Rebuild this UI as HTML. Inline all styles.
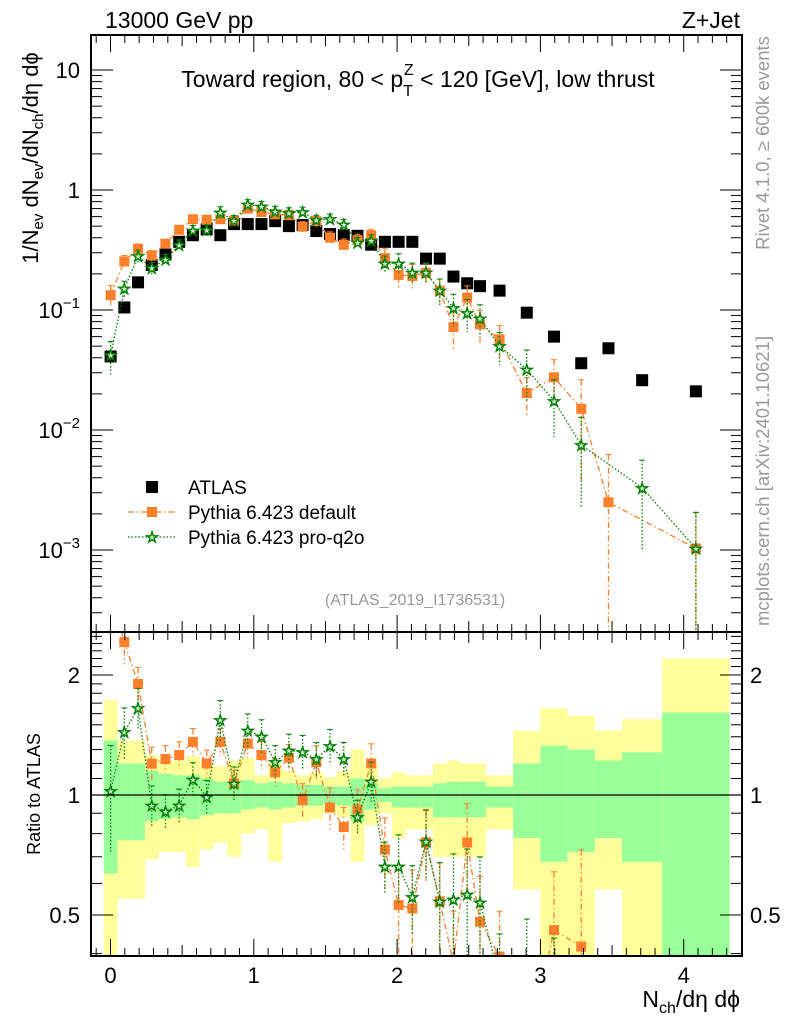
<!DOCTYPE html>
<html><head><meta charset="utf-8">
<style>
html,body{margin:0;padding:0;background:#fff;width:786px;height:1024px;overflow:hidden;}
svg{display:block;font-family:"Liberation Sans",Arial,sans-serif;}
</style></head>
<body>
<svg id="chart" width="786" height="1024" viewBox="0 0 786 1024" xmlns="http://www.w3.org/2000/svg">
<g id="bands"></g>
<g id="marks"></g>
<g id="axes"></g>
<text x="105" y="28" font-size="23">13000 GeV pp</text>
<text x="740" y="28" font-size="23" text-anchor="end">Z+Jet</text>
<text x="418" y="87" font-size="23" text-anchor="middle">Toward region, 80 &lt; p<tspan font-size="16" dy="9">T</tspan><tspan font-size="16" dx="-9" dy="-21">Z</tspan><tspan dy="12"> &lt; 120 [GeV], low thrust</tspan></text>
<text x="415" y="605" font-size="16" fill="#999" text-anchor="middle">(ATLAS_2019_I1736531)</text>
<text transform="translate(769,143) rotate(-90)" font-size="18.5" fill="#999" text-anchor="middle">Rivet 4.1.0, ≥ 600k events</text>
<text transform="translate(769,481) rotate(-90)" font-size="18.5" fill="#999" text-anchor="middle">mcplots.cern.ch [arXiv:2401.10621]</text>
<text transform="translate(38,158) rotate(-90)" font-size="22" text-anchor="middle">1/N<tspan font-size="15" dy="5">ev</tspan><tspan dy="-5"> dN</tspan><tspan font-size="15" dy="5">ev</tspan><tspan dy="-5">/dN</tspan><tspan font-size="15" dy="5">ch</tspan><tspan dy="-5">/dη dϕ</tspan></text>
<text transform="translate(40,794) rotate(-90)" font-size="18" text-anchor="middle">Ratio to ATLAS</text>
<text x="740" y="1007" font-size="23" text-anchor="end">N<tspan font-size="16" dy="6">ch</tspan><tspan dy="-6">/dη dϕ</tspan></text>
<g id="legend">
<rect x="146" y="481" width="12" height="12" fill="#000"/>
<text x="188" y="494" font-size="19">ATLAS</text>
<line x1="128" y1="512" x2="176" y2="512" stroke="#ff7f2a" stroke-width="1.3" stroke-dasharray="6,3,1.5,3"/>
<rect x="147" y="507" width="10" height="10" fill="#ff7f2a"/>
<text x="188" y="519" font-size="19">Pythia 6.423 default</text>
<line x1="128" y1="537" x2="176" y2="537" stroke="#008000" stroke-width="1.3" stroke-dasharray="1.5,2"/>
<text x="152" y="542" font-size="14" fill="#cfe8cf" stroke="#008000" stroke-width="1.4" text-anchor="middle">★</text>
<text x="188" y="544" font-size="19">Pythia 6.423 pro-q2o</text>
</g>
</svg>
<script>
// ---- data ----
const binEdges = [-0.047,0.0487,0.1444,0.2401,0.3358,0.4315,0.5272,0.6229,0.7186,0.8143,0.91,1.0057,1.1014,1.1971,1.2928,1.3885,1.4842,1.5799,1.6756,1.7713,1.867,1.9627,2.0584,2.1541,2.2498,2.3455,2.4412,2.5369,2.62,2.81,3.0,3.19,3.38,3.57,3.85,4.32];
const atlasValues = [0.041,0.105,0.17,0.237,0.29,0.37,0.42,0.47,0.42,0.52,0.52,0.52,0.55,0.5,0.51,0.455,0.43,0.42,0.415,0.35,0.37,0.37,0.37,0.268,0.268,0.19,0.167,0.158,0.145,0.095,0.06,0.036,0.048,0.026,0.021];
const defaultValues = [0.133,0.254,0.323,0.284,0.357,0.466,0.571,0.564,0.571,0.556,0.70,0.655,0.627,0.62,0.495,0.55,0.40,0.349,0.382,0.42,0.27,0.196,0.192,0.204,0.145,0.072,0.127,0.076,0.057,0.0203,0.0275,0.015,0.0025,null,0.00103];
const defaultRelErr = [0.2,0.12,0.1,0.1,0.08,0.08,0.08,0.08,0.08,0.08,0.08,0.08,0.08,0.08,0.1,0.1,0.12,0.12,0.12,0.12,0.2,0.25,0.25,0.2,0.25,0.35,0.25,0.3,0.3,0.35,0.4,0.75,1.5,0,1.0];
const proq2oValues = [0.042,0.151,0.281,0.223,0.264,0.348,0.46,0.465,0.647,0.556,0.755,0.73,0.665,0.646,0.654,0.56,0.571,0.517,0.366,0.378,0.245,0.245,0.205,0.205,0.145,0.104,0.094,0.085,0.05,0.032,0.0175,0.0075,null,0.0033,0.00103];
const proq2oRelErr = [0.3,0.15,0.12,0.12,0.1,0.1,0.1,0.1,0.12,0.1,0.1,0.1,0.1,0.1,0.1,0.1,0.1,0.1,0.1,0.12,0.15,0.2,0.2,0.2,0.25,0.3,0.3,0.3,0.3,0.45,0.5,0.7,0,0.7,1.0];
const yellowHi = [1.73,1.37,1.37,1.26,1.22,1.22,1.25,1.2,1.18,1.22,1.24,1.12,1.2,1.15,1.12,1.14,1.11,1.15,1.3,1.2,1.1,1.14,1.12,1.12,1.2,1.22,1.2,1.2,1.12,1.45,1.65,1.58,1.45,1.55,2.2];
const greenHi = [1.37,1.2,1.2,1.15,1.13,1.12,1.12,1.1,1.08,1.07,1.09,1.07,1.08,1.07,1.06,1.06,1.05,1.05,1.1,1.07,1.04,1.05,1.05,1.05,1.07,1.08,1.08,1.08,1.05,1.2,1.33,1.3,1.22,1.28,1.61];
const greenLo = [0.635,0.77,0.77,0.86,0.87,0.88,0.87,0.89,0.9,0.9,0.92,0.93,0.92,0.93,0.94,0.94,0.95,0.94,0.86,0.92,0.96,0.93,0.93,0.93,0.88,0.88,0.88,0.88,0.93,0.78,0.68,0.72,0.78,0.68,0.38];
const yellowLo = [0.3,0.55,0.55,0.69,0.72,0.72,0.66,0.73,0.76,0.7,0.8,0.82,0.68,0.85,0.86,0.87,0.9,0.88,0.68,0.84,0.9,0.78,0.82,0.82,0.7,0.7,0.7,0.7,0.82,0.58,0.38,0.38,0.58,0.38,0.38];
const mainTicks = [10,1,0.1,0.01,0.001];
const mainTickLabels = ["10","1","10<sup>−1</sup>","10<sup>−2</sup>","10<sup>−3</sup>"];
const ratioTicks = [2,1,0.5];
const ratioTickLabels = ["2","1","0.5"];
const xTicks = [0,1,2,3,4];
const xTickLabels = ["0","1","2","3","4"];

// ---- geometry ----
const L=91,R=742,MT=35,MB=632,RT=632,RB=956;
const X0=110.5,XS=143.3;
const sx=v=>X0+v*XS;
const sy=v=>190-120*Math.log10(v);
const sr=v=>795-398.6*Math.log10(v);
const NS="http://www.w3.org/2000/svg";
function mk(parent,tag,attrs){const e=document.createElementNS(NS,tag);for(const k in attrs)e.setAttribute(k,attrs[k]);parent.appendChild(e);return e;}
const bandsG=document.getElementById('bands'),marksG=document.getElementById('marks'),axesG=document.getElementById('axes');
const clipY=(y,a,b)=>Math.max(a,Math.min(b,y));
const centers=atlasValues.map((_,i)=>(binEdges[i]+binEdges[i+1])/2);

for(let i=0;i<atlasValues.length;i++){
  const x1=sx(binEdges[i]),x2=sx(binEdges[i+1]);
  const yy1=clipY(sr(yellowHi[i]),RT,RB),yy2=clipY(sr(yellowLo[i]),RT,RB);
  const y=mk(bandsG,'rect',{x:x1,y:yy1,width:x2-x1,height:yy2-yy1,fill:'#ffff99'});
  
  
  const g1=clipY(sr(greenHi[i]),RT,RB),g2=clipY(sr(greenLo[i]),RT,RB);
  const g=mk(bandsG,'rect',{x:x1,y:g1,width:x2-x1,height:g2-g1,fill:'#99ff99'});
  
  
}
const ul=mk(axesG,'line',{x1:L,x2:R,y1:sr(1),y2:sr(1),stroke:'#000','stroke-width':1.2});



const defs=mk(document.getElementById('chart'),'defs',{});
const c1=mk(defs,'clipPath',{id:'cm'});mk(c1,'rect',{x:L,y:MT,width:R-L,height:MB-MT});
const c2=mk(defs,'clipPath',{id:'cr'});mk(c2,'rect',{x:L,y:RT,width:R-L,height:RB-RT});
const mainG=mk(marksG,'g',{'clip-path':'url(#cm)'});
const ratG=mk(marksG,'g',{'clip-path':'url(#cr)'});

function drawSeries(vals,errs,color,dash,kind,name){
  [[mainG,sy,MB],[ratG,sr,RB]].forEach(([grp,scale,bot],panel)=>{
    let pts=[];
    vals.forEach((v,i)=>{
      if(v==null)return;
      const val=panel===0?v:v/atlasValues[i];
      const x=sx(centers[i]),y=scale(val);
      pts.push([x,y]);
      const up=scale(val*(1+errs[i])),dn=errs[i]>=1?bot+10:scale(val*(1-errs[i]));
      const eb=mk(grp,'line',{x1:x,x2:x,y1:up,y2:dn,stroke:color,'stroke-width':1.3,'stroke-dasharray':dash});
      
      
      mk(grp,'line',{x1:x-3,x2:x+3,y1:up,y2:up,stroke:color,'stroke-width':1});
    });
    const pl=mk(grp,'polyline',{points:pts.map(p=>p.join(',')).join(' '),fill:'none',stroke:color,'stroke-width':1.3,'stroke-dasharray':dash});
    
    
    pts.forEach(p=>{
      let m;
      if(kind==='sq'){m=mk(grp,'rect',{x:p[0]-5,y:p[1]-5,width:10,height:10,fill:color});}
      else{m=mk(grp,'text',{x:p[0],y:p[1]+5,'font-size':14,fill:'#cfe8cf',stroke:color,'stroke-width':1.4,'text-anchor':'middle'});m.textContent='★';}
      
      
    });
  });
}
atlasValues.forEach((v,i)=>{
  const r=mk(mainG,'rect',{x:sx(centers[i])-6,y:sy(v)-6,width:12,height:12,fill:'#000'});
  
  
});
drawSeries(defaultValues,defaultRelErr,'#ff7f2a','6,3,1.5,3','sq','pythia-default');
drawSeries(proq2oValues,proq2oRelErr,'#008000','1.5,2','star','pythia-proq2o');

[[MT,MB],[RT,RB]].forEach(([t,b],k)=>{
  const f=mk(axesG,'rect',{x:L,y:t,width:R-L,height:b-t,fill:'none',stroke:'#000','stroke-width':2});
  
  
});
for(let k=-1;k<=45;k++){
  const v=k/10,x=sx(v);if(x<L+1||x>R-1)continue;
  const len=(k%5===0)?((k%10===0)?17:11):8;
  [MT,RT].forEach(t=>mk(axesG,'line',{x1:x,x2:x,y1:t,y2:t+len,stroke:'#000','stroke-width':1}));
  [MB,RB].forEach(b=>mk(axesG,'line',{x1:x,x2:x,y1:b,y2:b-len,stroke:'#000','stroke-width':1}));
}
xTicks.forEach((v,i)=>{
  const t=mk(axesG,'text',{x:sx(v),y:983,'font-size':22,'text-anchor':'middle'});
  t.textContent=xTickLabels[i];
  
  
});
for(let e=-4;e<=1;e++){for(let m=1;m<=9;m++){
  const v=m*Math.pow(10,e),y=sy(v);if(y<MT+1||y>MB-1)continue;
  const len=m===1?22:11;
  mk(axesG,'line',{x1:L,x2:L+len,y1:y,y2:y,stroke:'#000','stroke-width':1});
  mk(axesG,'line',{x1:R,x2:R-len,y1:y,y2:y,stroke:'#000','stroke-width':1});
}}
mainTicks.forEach((v,i)=>{
  const t=mk(axesG,'text',{x:80,y:sy(v)+8,'font-size':22,'text-anchor':'end'});
  const lab=mainTickLabels[i];
  if(lab.indexOf('<sup>')<0){t.textContent=lab;}
  else{t.textContent='10';const s=mk(t,'tspan',{'font-size':15,dy:-10});s.textContent=lab.replace(/.*<sup>(.*)<\/sup>/,'$1');}
  
  
});
[0.4,0.5,0.6,0.7,0.8,0.9,1,1.1,1.2,1.3,1.4,1.5,1.6,1.7,1.8,1.9,2,2.1,2.2,2.3,2.4,2.5].forEach(v=>{
  const y=sr(v);if(y<RT+1||y>RB-1)return;
  const len=(v===0.5||v===1||v===2)?22:11;
  mk(axesG,'line',{x1:L,x2:L+len,y1:y,y2:y,stroke:'#000','stroke-width':1});
  mk(axesG,'line',{x1:R,x2:R-len,y1:y,y2:y,stroke:'#000','stroke-width':1});
});
ratioTicks.forEach((v,i)=>{
  [[80,'end'],[750,'start']].forEach(([x,a])=>{
    const t=mk(axesG,'text',{x:x,y:sr(v)+8,'font-size':22,'text-anchor':a});
    t.textContent=ratioTickLabels[i];
    
    
  });
});
</script>
</body></html>
